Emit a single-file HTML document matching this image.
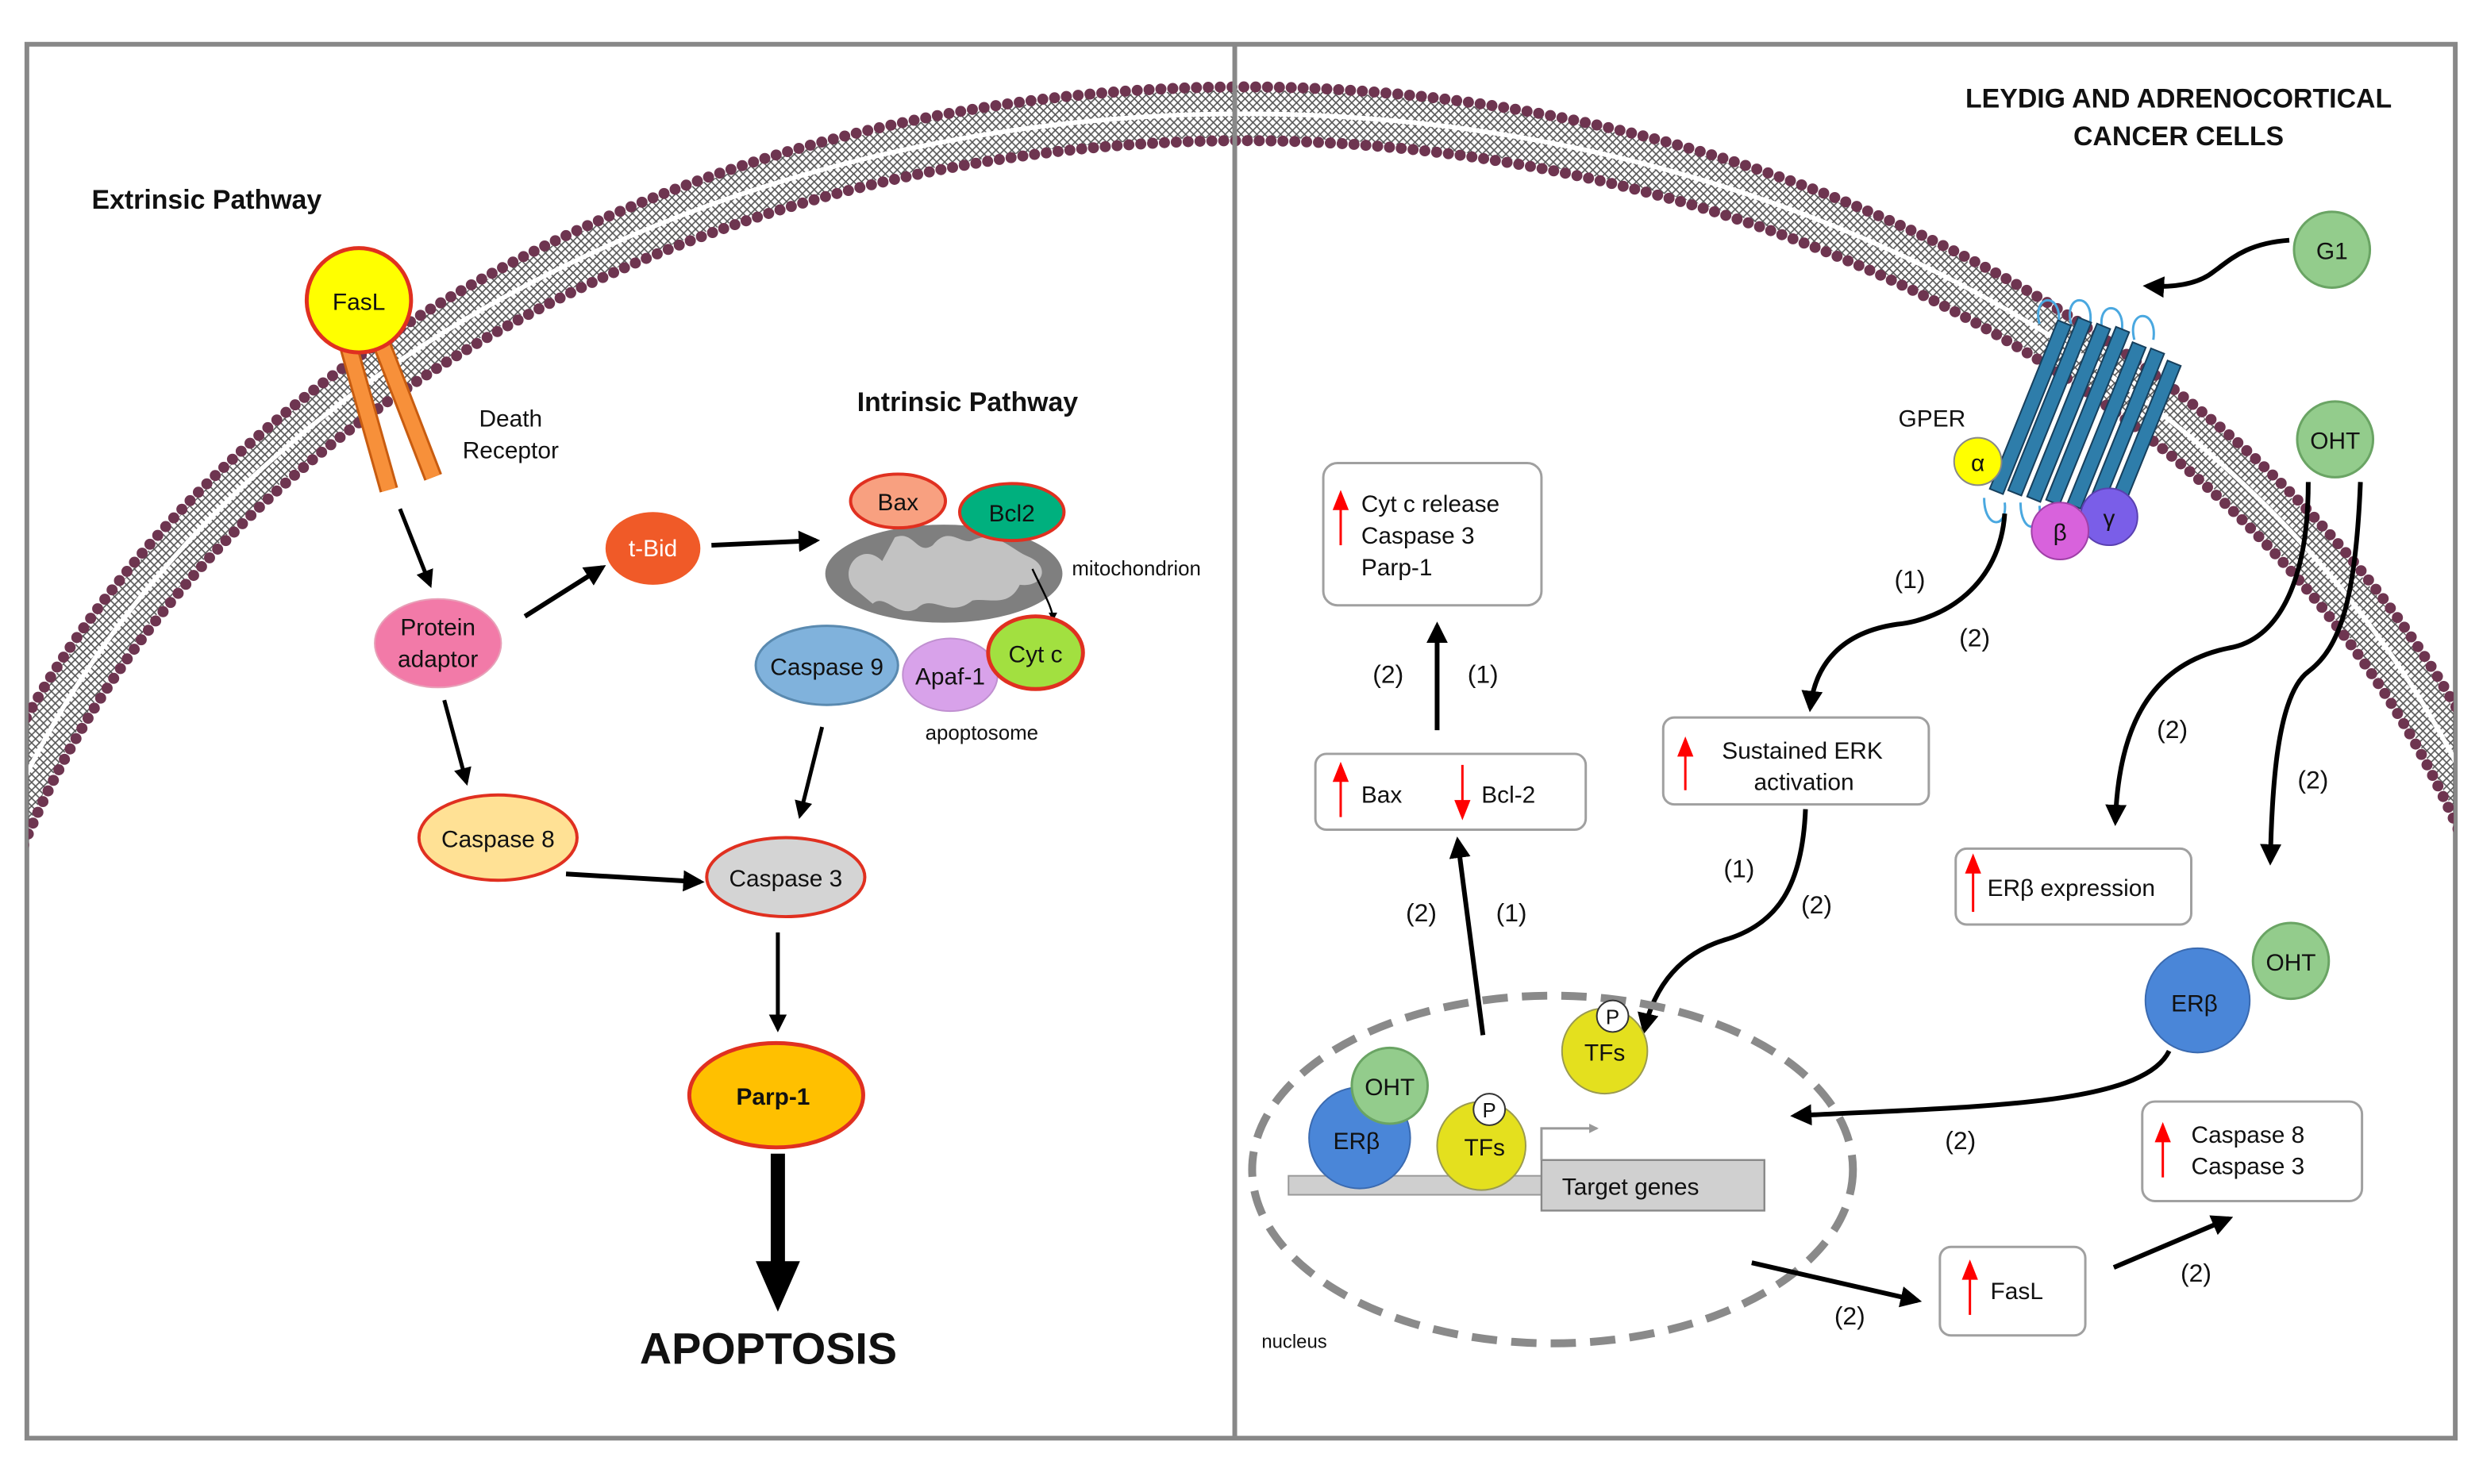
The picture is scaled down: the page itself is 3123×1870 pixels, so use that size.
<!DOCTYPE html>
<html><head><meta charset="utf-8"><style>html,body{margin:0;padding:0;background:#fff;overflow:hidden;width:3123px;height:1870px}svg{display:block}text{font-family:"Liberation Sans",Arial,sans-serif;fill:#111}</style></head><body>
<svg width="3123" height="1870" viewBox="0 0 1568 939" preserveAspectRatio="none" xmlns="http://www.w3.org/2000/svg">
<defs>
<marker id="a" viewBox="0 0 10 10" refX="8" refY="5" markerWidth="4.5" markerHeight="4.5" orient="auto"><path d="M0,0 L10,5 L0,10 z" fill="#000"/></marker>
<marker id="g" viewBox="0 0 10 10" refX="8" refY="5" markerWidth="4" markerHeight="4" orient="auto"><path d="M0,0 L10,5 L0,10 z" fill="#999"/></marker>
<clipPath id="fr"><rect x="18" y="29" width="1534" height="880"/></clipPath>
<pattern id="hatch" width="5" height="5" patternUnits="userSpaceOnUse"><path d="M0,0 L5,5 M5,0 L0,5" stroke="#555" stroke-width="0.8"/></pattern>
</defs>
<rect x="0" y="0" width="1568" height="939" fill="#fff"/>
<rect x="17" y="28" width="1536" height="882" fill="none" stroke="#888" stroke-width="3"/>
<g clip-path="url(#fr)">
<ellipse cx="787" cy="738" rx="830" ry="666" fill="none" stroke="url(#hatch)" stroke-width="30"/>
<ellipse cx="787" cy="738" rx="830" ry="666" fill="none" stroke="#fff" stroke-width="3"/>
<ellipse cx="787" cy="738" rx="847" ry="683" fill="none" stroke="#6e3550" stroke-width="7" stroke-dasharray="0 7.5" stroke-linecap="round"/>
<ellipse cx="787" cy="738" rx="813" ry="649" fill="none" stroke="#6e3550" stroke-width="7" stroke-dasharray="0 7.5" stroke-linecap="round"/>
</g>
<line x1="781" y1="28" x2="781" y2="910" stroke="#888" stroke-width="3"/>

<!-- LEFT -->
<text x="58" y="132" font-size="17" font-weight="bold">Extrinsic Pathway</text>
<line x1="219" y1="214" x2="246" y2="310" stroke="#c85c10" stroke-width="12"/>
<line x1="219" y1="214" x2="246" y2="310" stroke="#f7903a" stroke-width="9"/>
<line x1="240" y1="214" x2="274" y2="302" stroke="#c85c10" stroke-width="12"/>
<line x1="240" y1="214" x2="274" y2="302" stroke="#f7903a" stroke-width="9"/>
<circle cx="227" cy="190" r="33" fill="#ffff00" stroke="#e03020" stroke-width="2.5"/>
<text x="227" y="196" font-size="15" text-anchor="middle">FasL</text>
<text x="323" y="270" font-size="15" text-anchor="middle">Death</text>
<text x="323" y="290" font-size="15" text-anchor="middle">Receptor</text>
<line x1="253" y1="322" x2="272" y2="370" stroke="#000" stroke-width="2.5" marker-end="url(#a)"/>
<ellipse cx="277" cy="407" rx="40" ry="28" fill="#f27aa8" stroke="#e8a0b8" stroke-width="1"/>
<text x="277" y="402" font-size="15" text-anchor="middle">Protein</text>
<text x="277" y="422" font-size="15" text-anchor="middle">adaptor</text>
<line x1="332" y1="390" x2="381" y2="359" stroke="#000" stroke-width="3" marker-end="url(#a)"/>
<ellipse cx="413" cy="347" rx="30" ry="23" fill="#f05a28"/>
<text x="413" y="352" font-size="15" text-anchor="middle" style="fill:#fff">t-Bid</text>
<line x1="450" y1="345" x2="516" y2="342" stroke="#000" stroke-width="3" marker-end="url(#a)"/>
<ellipse cx="597" cy="363" rx="75" ry="31" fill="#7f7f7f"/>
<path d="M540,372 C530,360 545,342 558,355 L566,340 C578,335 580,352 590,345 C600,332 608,345 615,342 C630,335 640,348 650,352 C665,358 660,372 645,370 C638,385 625,378 615,380 C600,392 590,375 580,385 C568,392 560,375 552,382 Z" fill="#c2c2c2"/>
<ellipse cx="568" cy="317" rx="30" ry="17" fill="#f8a080" stroke="#e03020" stroke-width="2"/>
<text x="568" y="323" font-size="15" text-anchor="middle">Bax</text>
<ellipse cx="640" cy="324" rx="33" ry="18" fill="#00b07e" stroke="#e03020" stroke-width="2"/>
<text x="640" y="330" font-size="15" text-anchor="middle">Bcl2</text>
<text x="678" y="364" font-size="13">mitochondrion</text>
<path d="M653,360 C660,375 666,385 666,392" fill="none" stroke="#000" stroke-width="1.2" marker-end="url(#a)"/>
<text x="612" y="260" font-size="17" font-weight="bold" text-anchor="middle">Intrinsic Pathway</text>
<ellipse cx="523" cy="421" rx="45" ry="25" fill="#80b2dc" stroke="#5a8ab0" stroke-width="1.5"/>
<text x="523" y="427" font-size="15" text-anchor="middle">Caspase 9</text>
<ellipse cx="601" cy="427" rx="30" ry="23" fill="#d8a2ea" stroke="#c090d0" stroke-width="1"/>
<text x="601" y="433" font-size="15" text-anchor="middle">Apaf-1</text>
<ellipse cx="655" cy="413" rx="30" ry="23" fill="#a2e040" stroke="#e03020" stroke-width="2.5"/>
<text x="655" y="419" font-size="15" text-anchor="middle">Cyt c</text>
<text x="621" y="468" font-size="13" text-anchor="middle">apoptosome</text>
<line x1="281" y1="443" x2="295" y2="495" stroke="#000" stroke-width="2.5" marker-end="url(#a)"/>
<ellipse cx="315" cy="530" rx="50" ry="27" fill="#ffe195" stroke="#e03020" stroke-width="2"/>
<text x="315" y="536" font-size="15" text-anchor="middle">Caspase 8</text>
<line x1="520" y1="460" x2="506" y2="516" stroke="#000" stroke-width="2.5" marker-end="url(#a)"/>
<line x1="358" y1="553" x2="443" y2="558" stroke="#000" stroke-width="3" marker-end="url(#a)"/>
<ellipse cx="497" cy="555" rx="50" ry="25" fill="#d4d4d4" stroke="#e03020" stroke-width="2"/>
<text x="497" y="561" font-size="15" text-anchor="middle">Caspase 3</text>
<line x1="492" y1="590" x2="492" y2="651" stroke="#000" stroke-width="2.5" marker-end="url(#a)"/>
<ellipse cx="491" cy="693" rx="55" ry="33" fill="#ffc000" stroke="#e03020" stroke-width="2.5"/>
<text x="489" y="699" font-size="15" font-weight="bold" text-anchor="middle">Parp-1</text>
<line x1="492" y1="730" x2="492" y2="800" stroke="#000" stroke-width="9"/>
<path d="M478,798 L506,798 L492,830 Z" fill="#000"/>
<text x="486" y="863" font-size="28" font-weight="bold" text-anchor="middle">APOPTOSIS</text>

<!-- RIGHT -->
<text x="1378" y="68" font-size="17" font-weight="bold" text-anchor="middle">LEYDIG AND ADRENOCORTICAL</text>
<text x="1378" y="92" font-size="17" font-weight="bold" text-anchor="middle">CANCER CELLS</text>
<circle cx="1475" cy="158" r="24" fill="#93cc8c" stroke="#6aa464" stroke-width="1.5"/>
<text x="1475" y="164" font-size="15" text-anchor="middle">G1</text>
<path d="M1448,152 C1420,154 1410,165 1400,172 C1390,180 1375,182 1358,181" fill="none" stroke="#000" stroke-width="3" marker-end="url(#a)"/>
<g fill="none" stroke="#4aa8e0" stroke-width="1.5">
<path d="M1290,205 C1285,185 1305,185 1302,205"/><path d="M1310,205 C1305,185 1325,185 1322,205"/><path d="M1330,210 C1325,190 1345,190 1342,210"/><path d="M1350,215 C1345,195 1365,195 1362,215"/>
<path d="M1255,315 C1255,335 1270,335 1268,318"/><path d="M1278,318 C1278,338 1292,338 1290,320"/><path d="M1300,320 C1300,340 1314,340 1312,322"/>
</g>
<g fill="#2e7daa" stroke="#173f5c" stroke-width="1">
<rect x="1280" y="200" width="9" height="115" transform="rotate(22 1284 257)"/>
<rect x="1292" y="198" width="9" height="118" transform="rotate(22 1296 257)"/>
<rect x="1304" y="202" width="9" height="118" transform="rotate(22 1308 261)"/>
<rect x="1316" y="204" width="9" height="118" transform="rotate(22 1320 263)"/>
<rect x="1328" y="214" width="9" height="110" transform="rotate(22 1332 269)"/>
<rect x="1340" y="218" width="9" height="108" transform="rotate(22 1344 272)"/>
<rect x="1352" y="226" width="9" height="100" transform="rotate(22 1356 276)"/>
</g>
<text x="1222" y="270" font-size="15" text-anchor="middle">GPER</text>
<circle cx="1251" cy="292" r="15" fill="#ffff00" stroke="#888" stroke-width="1"/>
<text x="1251" y="298" font-size="15" text-anchor="middle">α</text>
<circle cx="1334" cy="327" r="18" fill="#7a5ee8" stroke="#5a40b0" stroke-width="1"/>
<text x="1334" y="333" font-size="15" text-anchor="middle">γ</text>
<circle cx="1303" cy="336" r="18" fill="#d862dc" stroke="#a040a8" stroke-width="1"/>
<text x="1303" y="342" font-size="15" text-anchor="middle">β</text>
<circle cx="1477" cy="278" r="24" fill="#93cc8c" stroke="#6aa464" stroke-width="1.5"/>
<text x="1477" y="284" font-size="15" text-anchor="middle">OHT</text>
<path d="M1268,325 C1265,370 1230,392 1200,395 C1165,400 1148,420 1145,448" fill="none" stroke="#000" stroke-width="3" marker-end="url(#a)"/>
<text x="1208" y="372" font-size="16" text-anchor="middle">(1)</text>
<text x="1249" y="409" font-size="16" text-anchor="middle">(2)</text>
<path d="M1460,305 C1460,370 1440,405 1410,410 C1360,420 1340,460 1338,520" fill="none" stroke="#000" stroke-width="3" marker-end="url(#a)"/>
<text x="1374" y="467" font-size="16" text-anchor="middle">(2)</text>
<path d="M1493,305 C1490,380 1480,410 1460,425 C1440,440 1437,500 1436,545" fill="none" stroke="#000" stroke-width="3" marker-end="url(#a)"/>
<text x="1463" y="499" font-size="16" text-anchor="middle">(2)</text>

<g fill="#fff" stroke="#a0a0a0" stroke-width="1.5">
<rect x="837" y="293" width="138" height="90" rx="9"/>
<rect x="832" y="477" width="171" height="48" rx="7"/>
<rect x="1052" y="454" width="168" height="55" rx="7"/>
<rect x="1237" y="537" width="149" height="48" rx="7"/>
<rect x="1355" y="697" width="139" height="63" rx="8"/>
<rect x="1227" y="789" width="92" height="56" rx="7"/>
</g>
<g stroke="#ff0000" stroke-width="1.5" fill="#ff0000">
<line x1="848" y1="345" x2="848" y2="318"/><path d="M844,322 L848,312 L852,322 Z"/>
<line x1="848" y1="517" x2="848" y2="490"/><path d="M844,494 L848,484 L852,494 Z"/>
<line x1="925" y1="484" x2="925" y2="510"/><path d="M921,507 L925,517 L929,507 Z"/>
<line x1="1066" y1="500" x2="1066" y2="474"/><path d="M1062,478 L1066,468 L1070,478 Z"/>
<line x1="1248" y1="577" x2="1248" y2="550"/><path d="M1244,552 L1248,542 L1252,552 Z"/>
<line x1="1368" y1="745" x2="1368" y2="718"/><path d="M1364,722 L1368,712 L1372,722 Z"/>
<line x1="1246" y1="832" x2="1246" y2="805"/><path d="M1242,809 L1246,799 L1250,809 Z"/>
</g>
<text x="861" y="324" font-size="15">Cyt c release</text>
<text x="861" y="344" font-size="15">Caspase 3</text>
<text x="861" y="364" font-size="15">Parp-1</text>
<text x="861" y="508" font-size="15">Bax</text>
<text x="937" y="508" font-size="15">Bcl-2</text>
<text x="1140" y="480" font-size="15" text-anchor="middle">Sustained ERK</text>
<text x="1141" y="500" font-size="15" text-anchor="middle">activation</text>
<text x="1257" y="567" font-size="15">ERβ expression</text>
<text x="1386" y="723" font-size="15">Caspase 8</text>
<text x="1386" y="743" font-size="15">Caspase 3</text>
<text x="1259" y="822" font-size="15">FasL</text>

<line x1="909" y1="462" x2="909" y2="396" stroke="#000" stroke-width="3" marker-end="url(#a)"/>
<text x="878" y="432" font-size="16" text-anchor="middle">(2)</text>
<text x="938" y="432" font-size="16" text-anchor="middle">(1)</text>
<path d="M1142,512 C1140,560 1125,585 1090,595 C1058,605 1045,630 1040,652" fill="none" stroke="#000" stroke-width="3" marker-end="url(#a)"/>
<text x="1100" y="555" font-size="16" text-anchor="middle">(1)</text>
<text x="1149" y="578" font-size="16" text-anchor="middle">(2)</text>
<line x1="938" y1="655" x2="922" y2="532" stroke="#000" stroke-width="3" marker-end="url(#a)"/>
<text x="899" y="583" font-size="16" text-anchor="middle">(2)</text>
<text x="956" y="583" font-size="16" text-anchor="middle">(1)</text>

<ellipse cx="982" cy="740" rx="190" ry="110" fill="none" stroke="#8a8a8a" stroke-width="5" stroke-dasharray="16 9"/>
<text x="798" y="853" font-size="12">nucleus</text>
<rect x="815" y="744" width="162" height="12" fill="#cfcfcf" stroke="#999" stroke-width="1"/>
<rect x="975" y="734" width="141" height="32" fill="#d0d0d0" stroke="#888" stroke-width="1.2"/>
<text x="988" y="756" font-size="15">Target genes</text>
<path d="M975,734 L975,714 L1010,714" fill="none" stroke="#999" stroke-width="1.5" marker-end="url(#g)"/>
<circle cx="860" cy="720" r="32" fill="#4a86d8" stroke="#3a6ab0" stroke-width="1"/>
<text x="858" y="727" font-size="15" text-anchor="middle">ERβ</text>
<circle cx="879" cy="687" r="24" fill="#93cc8c" stroke="#6aa464" stroke-width="1.5"/>
<text x="879" y="693" font-size="15" text-anchor="middle">OHT</text>
<circle cx="937" cy="725" r="28" fill="#e4e01e" stroke="#9a9a50" stroke-width="1"/>
<text x="939" y="731" font-size="15" text-anchor="middle">TFs</text>
<circle cx="942" cy="702" r="10" fill="#fff" stroke="#333" stroke-width="1"/>
<text x="942" y="707" font-size="13" text-anchor="middle">P</text>
<circle cx="1015" cy="665" r="27" fill="#e4e01e" stroke="#9a9a50" stroke-width="1"/>
<text x="1015" y="671" font-size="15" text-anchor="middle">TFs</text>
<circle cx="1020" cy="643" r="10" fill="#fff" stroke="#333" stroke-width="1"/>
<text x="1020" y="648" font-size="13" text-anchor="middle">P</text>

<path d="M1372,665 C1355,700 1250,700 1135,706" fill="none" stroke="#000" stroke-width="3" marker-end="url(#a)"/>
<text x="1240" y="727" font-size="16" text-anchor="middle">(2)</text>
<circle cx="1390" cy="633" r="33" fill="#4a86d8" stroke="#3a6ab0" stroke-width="1"/>
<text x="1388" y="640" font-size="15" text-anchor="middle">ERβ</text>
<circle cx="1449" cy="608" r="24" fill="#93cc8c" stroke="#6aa464" stroke-width="1.5"/>
<text x="1449" y="614" font-size="15" text-anchor="middle">OHT</text>
<line x1="1108" y1="799" x2="1213" y2="823" stroke="#000" stroke-width="3" marker-end="url(#a)"/>
<text x="1170" y="838" font-size="16" text-anchor="middle">(2)</text>
<line x1="1337" y1="802" x2="1410" y2="771" stroke="#000" stroke-width="3" marker-end="url(#a)"/>
<text x="1389" y="811" font-size="16" text-anchor="middle">(2)</text>
</svg>
</body></html>
